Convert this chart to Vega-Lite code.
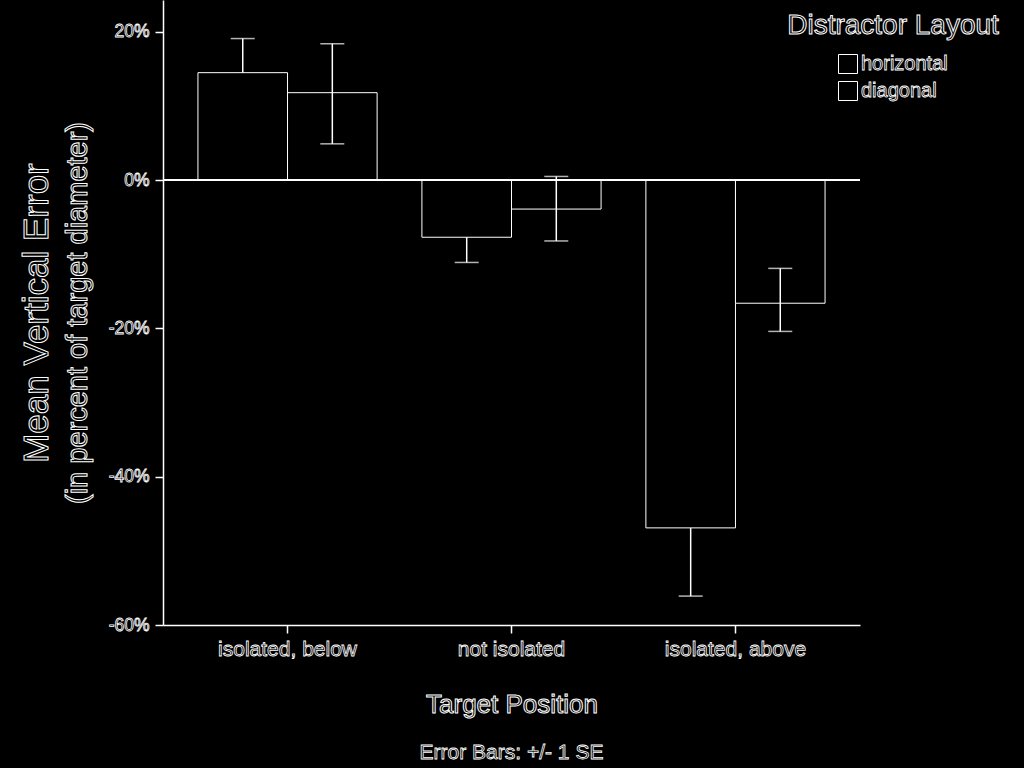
{
 "$schema":"https://vega.github.io/schema/vega-lite/v6.json",
 "width":697,"height":625,
 "autosize":{"type":"none"},
 "padding":{"left":163,"top":0,"right":164,"bottom":143},
 "background":"black",
 "title":{"text":"Error Bars: +/- 1 SE","orient":"bottom","anchor":"middle","fontSize":21,"fontWeight":"normal","color":"black","offset":25},
 "data":{"values":[
  {"pos":"isolated, below","layout":"horizontal","mean":14.5,"lo":9.9,"hi":19.1},
  {"pos":"isolated, below","layout":"diagonal","mean":11.8,"lo":4.9,"hi":18.4},
  {"pos":"not isolated","layout":"horizontal","mean":-7.7,"lo":-11.1,"hi":-4.3},
  {"pos":"not isolated","layout":"diagonal","mean":-3.9,"lo":-8.2,"hi":0.5},
  {"pos":"isolated, above","layout":"horizontal","mean":-46.9,"lo":-56.1,"hi":-37.7},
  {"pos":"isolated, above","layout":"diagonal","mean":-16.6,"lo":-20.4,"hi":-11.9}
 ]},
 "layer":[
  {
   "encoding":{
    "x":{"field":"pos","type":"nominal","sort":["isolated, below","not isolated","isolated, above"],"scale":{"paddingInner":0.2,"paddingOuter":0.156},"axis":{"title":"Target Position","labelAngle":0,"labelFontSize":21,"titleFontSize":26,"tickSize":8,"labelPadding":5,"titlePadding":32}},
    "xOffset":{"field":"layout","type":"nominal","scale":{"domain":["horizontal","diagonal"],"paddingInner":0,"paddingOuter":0}}
   },
   "layer":[
    {"transform":[{"filter":"datum.layout == 'horizontal'"}],"mark":{"type":"rule","color":"white","strokeWidth":1.5},
     "encoding":{"y":{"field":"lo","type":"quantitative","title":"(in percent of target diameter)","scale":{"domain":[-60,24.3],"nice":false,"zero":false},
       "axis":{"orient":"left","values":[-60,-40,-20,0,20],"labelExpr":"datum.value + '%'","labelFontSize":17.5,"tickSize":8,"labelPadding":6,"titleFontSize":29,"titlePadding":16}},
      "y2":{"field":"hi"}}},
    {"transform":[{"filter":"datum.layout == 'horizontal'"}],"mark":{"type":"tick","color":"white","size":24,"thickness":1.5},
     "encoding":{"y":{"field":"hi","type":"quantitative","title":"(in percent of target diameter)"}}},
    {"transform":[{"filter":"datum.layout == 'horizontal'"}],"mark":{"type":"tick","color":"white","size":24,"thickness":1.5},
     "encoding":{"y":{"field":"lo","type":"quantitative","title":"(in percent of target diameter)"}}},
    {"mark":{"type":"bar","stroke":"white","strokeWidth":1},
     "encoding":{"y":{"field":"mean","type":"quantitative","title":"(in percent of target diameter)"},
      "fill":{"field":"layout","type":"nominal","scale":{"domain":["horizontal","diagonal"],"range":["black","black"]},
       "legend":{"title":"Distractor Layout","orient":"none","legendX":624,"legendY":12,"symbolType":"square","symbolSize":361,"symbolStrokeColor":"white","symbolStrokeWidth":1,"labelFontSize":20,"titleFontSize":28,"titleLimit":400,"labelLimit":300,"rowPadding":3,"labelOffset":3,"titleAnchor":"middle","titleAlign":"center","titlePadding":14}}}},
    {"transform":[{"filter":"datum.layout == 'diagonal'"}],"mark":{"type":"rule","color":"white","strokeWidth":1.5},
     "encoding":{"y":{"field":"lo","type":"quantitative","title":"(in percent of target diameter)"},"y2":{"field":"hi"}}},
    {"transform":[{"filter":"datum.layout == 'diagonal'"}],"mark":{"type":"tick","color":"white","size":24,"thickness":1.5},
     "encoding":{"y":{"field":"hi","type":"quantitative","title":"(in percent of target diameter)"}}},
    {"transform":[{"filter":"datum.layout == 'diagonal'"}],"mark":{"type":"tick","color":"white","size":24,"thickness":1.5},
     "encoding":{"y":{"field":"lo","type":"quantitative","title":"(in percent of target diameter)"}}}
   ]
  },
  {"mark":{"type":"rule","color":"white","strokeWidth":1.5},
   "encoding":{"y":{"datum":0,"type":"quantitative","scale":{"domain":[-60,24.3],"nice":false,"zero":false},
     "axis":{"title":"Mean Vertical Error","orient":"left","domain":false,"ticks":false,"labels":false,"titleFontSize":35,"titlePadding":4,"offset":105}}}}
 ],
 "resolve":{"scale":{"y":"independent"}},
 "config":{
  "font":"Liberation Sans",
  "view":{"stroke":null},
  "axis":{"domainColor":"white","tickColor":"white","labelColor":"black","titleColor":"black","grid":false,"titleFontWeight":"normal","domainWidth":1.5,"tickWidth":1.5,"titleLimit":800},
  "legend":{"labelColor":"black","titleColor":"black","titleFontWeight":"normal"},
  "style":{"guide-label":{"stroke":"white","strokeWidth":0.8},"guide-title":{"stroke":"white","strokeWidth":1},"group-title":{"stroke":"white","strokeWidth":0.8}}
 }
}
